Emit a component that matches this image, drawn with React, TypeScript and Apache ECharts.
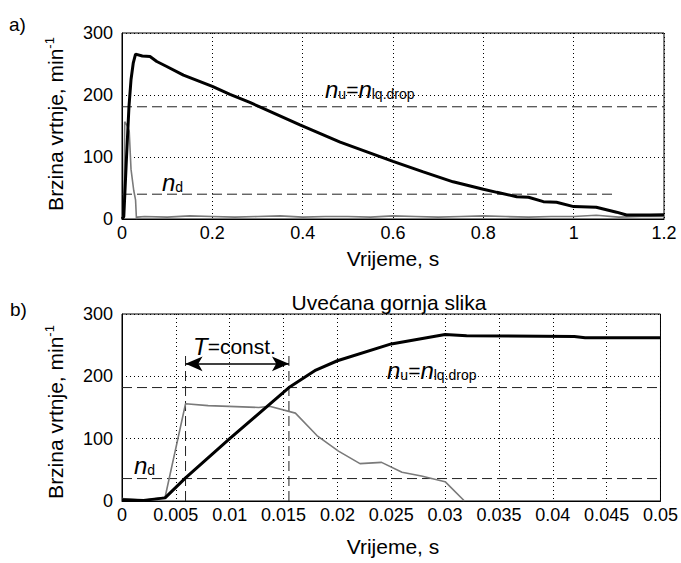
import React, { useEffect, useRef } from "react";
import * as echarts from "echarts";

const FONT = "'Liberation Sans', Arial, sans-serif";

// Top chart (a)
const topXTicks = [0, 0.2, 0.4, 0.6, 0.8, 1, 1.2];
const yTicks = [0, 100, 200, 300];
const topBlack: [number, number][] = [
  [0, 0], [0.004, 4], [0.01, 100], [0.0155, 182], [0.02, 225], [0.025, 252], [0.03, 266],
  [0.045, 263], [0.062, 262], [0.077, 254], [0.099, 246], [0.136, 232], [0.2, 214],
  [0.239, 201], [0.283, 188], [0.305, 181], [0.394, 152], [0.483, 124], [0.6, 93],
  [0.667, 76], [0.733, 60], [0.8, 48], [0.83, 43], [0.874, 36], [0.9, 35], [0.933, 28],
  [0.962, 27], [1.0, 20], [1.05, 19], [1.095, 11], [1.117, 6.5], [1.169, 6.5], [1.2, 7],
];
const topGray: [number, number][] = [
  [0, 3], [0.004, 5], [0.006, 157], [0.012, 150], [0.016, 141], [0.02, 80], [0.026, 46],
  [0.03, 31], [0.032, 0], [0.034, 3], [0.05, 4], [0.1, 3], [0.15, 5], [0.2, 4], [0.25, 3],
  [0.3, 4], [0.35, 5], [0.4, 3], [0.45, 4], [0.5, 4], [0.55, 3], [0.6, 5], [0.65, 4],
  [0.7, 3], [0.75, 4], [0.8, 5], [0.85, 4], [0.9, 3], [0.95, 4], [1.0, 4], [1.05, 6],
  [1.1, 3], [1.15, 4], [1.2, 4],
];
const topNu = 181;
const topNd = 40;
const topNdEnd = 1.09;

// Bottom chart (b)
const botXMax = 0.05;
const botXStep = 0.005;
const botBlack: [number, number][] = [
  [0, 2], [0.002, 1], [0.004, 5], [0.0059, 37], [0.01, 100], [0.0155, 182], [0.018, 210],
  [0.02, 225], [0.025, 252], [0.03, 267], [0.032, 265], [0.042, 264], [0.043, 262], [0.05, 262],
];
const botGray: [number, number][] = [
  [0, 4], [0.002, 1], [0.004, 6], [0.0059, 156], [0.008, 153], [0.0127, 150], [0.0137, 152],
  [0.0161, 141], [0.0181, 105], [0.0201, 80], [0.0221, 60], [0.0241, 62], [0.026, 46],
  [0.0278, 40], [0.03, 31], [0.0318, 0],
];
const botNu = 182;
const botNd = 36;
const tStart = 0.0059;
const tEnd = 0.0155;
const tTop = 233;
const arrowLevel = 220;

const App: React.FC = () => {
  const ref = useRef<HTMLDivElement>(null);
  useEffect(() => {
    if (!ref.current) return;
    const chart = echarts.init(ref.current, null, { renderer: "svg" });
    const dotted = { show: true, lineStyle: { color: "#000", type: [1, 3] as any, width: 1 } };
    const axLabel = { color: "#000", fontFamily: FONT, fontSize: 18 };
    const xAx = (gi: number, max: number, interval: number) => ({
      type: "value", gridIndex: gi, min: 0, max, interval,
      axisLine: { show: true, lineStyle: { color: "#000" } },
      axisTick: { show: false },
      axisLabel: { ...axLabel, margin: 5 },
      splitLine: dotted,
    });
    const yAx = (gi: number) => ({
      type: "value", gridIndex: gi, min: yTicks[0], max: yTicks[yTicks.length - 1], interval: yTicks[1] - yTicks[0],
      axisLine: { show: true, lineStyle: { color: "#000" } },
      axisTick: { show: false },
      axisLabel: { ...axLabel, margin: 9 },
      splitLine: dotted,
    });
    const dash = (gi: number, data: [number, number][]) => ({
      type: "line", xAxisIndex: gi, yAxisIndex: gi, data, symbol: "none", silent: true,
      lineStyle: { color: "#222", width: 1, type: [10, 5] as any },
    });
    const curve = (gi: number, data: [number, number][], color: string, width: number) => ({
      type: "line", xAxisIndex: gi, yAxisIndex: gi, data, symbol: "none", silent: true,
      lineStyle: { color, width },
    });
    const rich = {
      n: { fontFamily: FONT, fontSize: 24, fontStyle: "italic", fill: "#000" },
      s: { fontFamily: FONT, fontSize: 14, fill: "#000", padding: [9, 0, 0, 0] },
      e: { fontFamily: FONT, fontSize: 21, fill: "#000" },
      a: { fontFamily: FONT, fontSize: 21, fill: "#000" },
      sup: { fontFamily: FONT, fontSize: 13, fill: "#000", padding: [0, 0, 12, 0] },
    };
    const txt = (x: number, y: number, text: string, extra: any = {}) => ({
      type: "text", x, y, silent: true,
      style: { text, rich, fontFamily: FONT, fontSize: 21, fill: "#000", textVerticalAlign: "middle", ...extra },
    });
    const ytitle = (y: number) => ({
      type: "text", x: 55, y, rotation: Math.PI / 2, silent: true,
      style: { text: "{a|Brzina vrtnje, min}{sup|-1}", rich, textAlign: "center", textVerticalAlign: "middle" },
    });
    chart.setOption({
      animation: false,
      backgroundColor: "#fff",
      grid: [
        { left: 122, top: 33, width: 542, height: 186, show: true, borderColor: "#000", borderWidth: 1 },
        { left: 122, top: 314, width: 541, height: 187, show: true, borderColor: "#000", borderWidth: 1 },
      ],
      xAxis: [xAx(0, topXTicks[topXTicks.length - 1], topXTicks[1] - topXTicks[0]), xAx(1, botXMax, botXStep)],
      yAxis: [yAx(0), yAx(1)],
      series: [
        dash(0, [[0, topNu], [topXTicks[topXTicks.length - 1], topNu]]),
        dash(0, [[0, topNd], [topNdEnd, topNd]]),
        curve(0, topGray, "#7a7a7a", 1.6),
        curve(0, topBlack, "#000", 3),
        dash(1, [[0, botNu], [botXMax, botNu]]),
        dash(1, [[0, botNd], [botXMax, botNd]]),
        dash(1, [[tStart, 0], [tStart, tTop]]),
        dash(1, [[tEnd, 0], [tEnd, tTop]]),
        {
          ...curve(1, botGray, "#7a7a7a", 1.6),
          markLine: {
            silent: true, symbol: ["arrow", "arrow"], symbolSize: [11, 17],
            label: { show: false },
            lineStyle: { color: "#000", width: 1.5, type: "solid" },
            data: [[{ coord: [tStart, arrowLevel] }, { coord: [tEnd, arrowLevel] }]],
          },
        },
        curve(1, botBlack, "#000", 3),
      ],
      graphic: [
        txt(9, 24, "a)", { fontSize: 19 }),
        txt(10, 309, "b)", { fontSize: 19 }),
        ytitle(124),
        ytitle(412),
        txt(393, 258, "Vrijeme, s", { textAlign: "center" }),
        txt(393, 546, "Vrijeme, s", { textAlign: "center" }),
        txt(389, 302, "Uvećana gornja slika", { textAlign: "center" }),
        txt(162, 182, "{n|n}{s|d}"),
        txt(325, 89, "{n|n}{s|u}{e|=}{n|n}{s|lq.drop}"),
        txt(134, 465, "{n|n}{s|d}"),
        txt(387, 370, "{n|n}{s|u}{e|=}{n|n}{s|lq.drop}"),
        txt(193, 346, "{n|T}{e|=const.}"),
      ],
    });
    return () => chart.dispose();
  }, []);
  return <div ref={ref} style={{ position: "fixed", left: 0, top: 0, width: 681, height: 563, background: "#fff" }} />;
};

export default App;
